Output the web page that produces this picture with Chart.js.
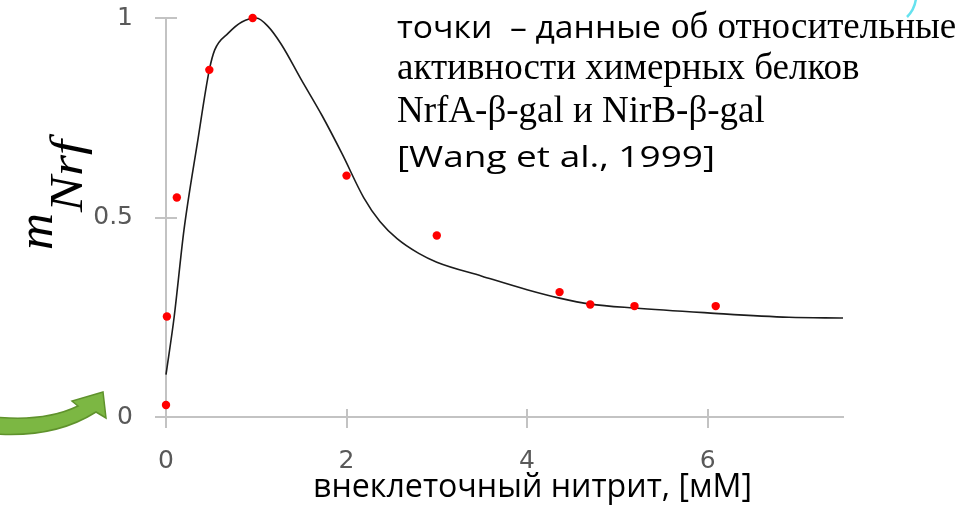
<!DOCTYPE html>
<html><head><meta charset="utf-8">
<script src="https://cdn.jsdelivr.net/npm/chart.js@4.4.1/dist/chart.umd.min.js"></script>
<style>html,body{margin:0;padding:0;background:#fff;}canvas{display:block;}</style>
</head><body>
<canvas id="c" width="976" height="506"></canvas>
<script>
// ---- data ----
const pointX = [0, 0.01, 0.12, 0.48, 0.96, 2.0, 3.0, 4.36, 4.7, 5.19, 6.09];
const pointY = [0.03, 0.252, 0.55, 0.87, 1.0, 0.605, 0.455, 0.313, 0.282, 0.278, 0.278];
const curveX = [0, 0.09, 0.2, 0.35, 0.48, 0.54, 0.69, 0.84, 1.0, 1.13, 1.28, 1.5, 1.73, 1.95, 2.19, 2.37, 2.56, 2.8, 3.0, 3.5, 4.0, 4.36, 4.7, 5.19, 6.0, 6.9, 7.5];
const curveY = [0.106, 0.25, 0.47, 0.69, 0.87, 0.92, 0.962, 0.99, 1.0, 0.979, 0.933, 0.845, 0.755, 0.66, 0.55, 0.49, 0.447, 0.41, 0.388, 0.353, 0.319, 0.298, 0.283, 0.273, 0.261, 0.25, 0.248];
const xTicks = [0, 2, 4, 6];
const yTicks = [0, 0.5, 1];
const xTitle = 'внеклеточный нитрит, [мМ]';
const yTitleMain = 'm';
const yTitleSub = 'Nrf';
const noteSans = 'точки  – данные';
const noteSerif1 = 'об относительные';
const noteLine2 = 'активности химерных белков';
const noteLine3 = 'NrfA-β-gal и NirB-β-gal';
const noteLine4 = '[Wang et al., 1999]';

const AXIS = '#c3c3c3';

function fitText(ctx, txt, x, y, font, w) {
  ctx.save();
  ctx.font = font;
  const m = ctx.measureText(txt).width;
  ctx.translate(x, y);
  ctx.scale(w / m, 1);
  ctx.fillText(txt, 0, 0);
  ctx.restore();
}

const crossTicks = {
  id: 'crossTicks',
  beforeDatasetsDraw(chart) {
    const ctx = chart.ctx, xs = chart.scales.x, ys = chart.scales.y;
    const ca = chart.chartArea;
    ctx.save();
    ctx.strokeStyle = AXIS;
    ctx.lineWidth = 2;
    ctx.beginPath();
    xTicks.forEach(v => {
      const px = Math.round(xs.getPixelForValue(v));
      ctx.moveTo(px, ca.bottom - 8);
      ctx.lineTo(px, ca.bottom + 11);
    });
    yTicks.forEach(v => {
      const py = Math.round(ys.getPixelForValue(v));
      ctx.moveTo(ca.left - 11, py);
      ctx.lineTo(ca.left + 11, py);
    });
    ctx.stroke();
    ctx.restore();
  }
};

const decor = {
  id: 'decor',
  afterDraw(chart) {
    const ctx = chart.ctx;
    ctx.save();
    // green arrow
    ctx.beginPath();
    ctx.moveTo(-5, 417);
    ctx.quadraticCurveTo(45, 422, 78, 406);
    ctx.lineTo(72, 401);
    ctx.lineTo(103, 392);
    ctx.lineTo(106, 418);
    ctx.lineTo(96, 412);
    ctx.quadraticCurveTo(55, 438, -5, 434);
    ctx.closePath();
    ctx.fillStyle = '#7cb743';
    ctx.fill();
    ctx.strokeStyle = '#5f922c';
    ctx.lineWidth = 1.5;
    ctx.stroke();
    // cyan arc
    ctx.beginPath();
    ctx.moveTo(916, -2);
    ctx.quadraticCurveTo(915, 9, 907, 17);
    ctx.strokeStyle = '#66e2ef';
    ctx.lineWidth = 2.5;
    ctx.stroke();

    ctx.fillStyle = '#000';
    ctx.textBaseline = 'alphabetic';
    ctx.textAlign = 'left';
    // note text
    fitText(ctx, noteSans, 397, 38, '31px "Open Sans"', 264);
    ctx.font = '37px "Liberation Serif"';
    ctx.fillText(noteSerif1, 671, 38);
    ctx.fillText(noteLine2, 397, 79);
    ctx.fillText(noteLine3, 397, 122);
    fitText(ctx, noteLine4, 397, 167, '30px "Open Sans"', 318);
    // x title
    fitText(ctx, xTitle, 313, 497, '32px "Open Sans"', 439);
    // y title (rotated)
    ctx.translate(52, 250);
    ctx.rotate(-Math.PI / 2);
    fitText(ctx, yTitleMain, 0, 0, 'italic 50px "Liberation Serif"', 37);
    fitText(ctx, yTitleSub, 38, 30, 'italic 47px "Liberation Serif"', 72);
    ctx.restore();
  }
};

function zeroPad(s) { s.paddingTop = 0; s.paddingBottom = 0; s.paddingLeft = 0; s.paddingRight = 0; }

new Chart(document.getElementById('c'), {
  type: 'scatter',
  data: {
    datasets: [
      {
        data: pointX.map((x, i) => ({x, y: pointY[i]})),
        pointRadius: 4.2,
        pointBackgroundColor: '#ff0000',
        pointBorderWidth: 0,
        showLine: false,
        clip: false,
        order: 0
      },
      {
        data: curveX.map((x, i) => ({x, y: curveY[i]})),
        showLine: true,
        pointRadius: 0,
        borderColor: '#1c1c1c',
        borderWidth: 1.6,
        cubicInterpolationMode: 'monotone',
        clip: false,
        order: 1
      }
    ]
  },
  options: {
    responsive: false,
    animation: false,
    devicePixelRatio: 1,
    layout: {padding: {left: 0, top: 18, right: 133, bottom: 0}},
    plugins: {legend: {display: false}, tooltip: {enabled: false}},
    events: [],
    scales: {
      x: {
        type: 'linear', min: 0, max: 7.5,
        afterFit: s => { s.height = 89; zeroPad(s); },
        afterBuildTicks: s => { s.ticks = xTicks.map(v => ({value: v})); },
        grid: {display: true, drawOnChartArea: false, drawTicks: false},
        border: {display: true, color: AXIS, width: 2},
        ticks: {padding: 29, color: '#595959', font: {family: 'DejaVu Sans', size: 25}, maxRotation: 0,
                callback: v => String(v)}
      },
      y: {
        type: 'linear', min: 0, max: 1,
        afterFit: s => { s.width = 166; zeroPad(s); },
        afterBuildTicks: s => { s.ticks = yTicks.map(v => ({value: v})); },
        grid: {display: true, drawOnChartArea: false, drawTicks: false},
        border: {display: true, color: AXIS, width: 2},
        ticks: {padding: 33, color: '#595959', font: {family: 'DejaVu Sans', size: 25},
                callback: v => String(v)}
      }
    }
  },
  plugins: [crossTicks, decor]
});
</script>
</body></html>
